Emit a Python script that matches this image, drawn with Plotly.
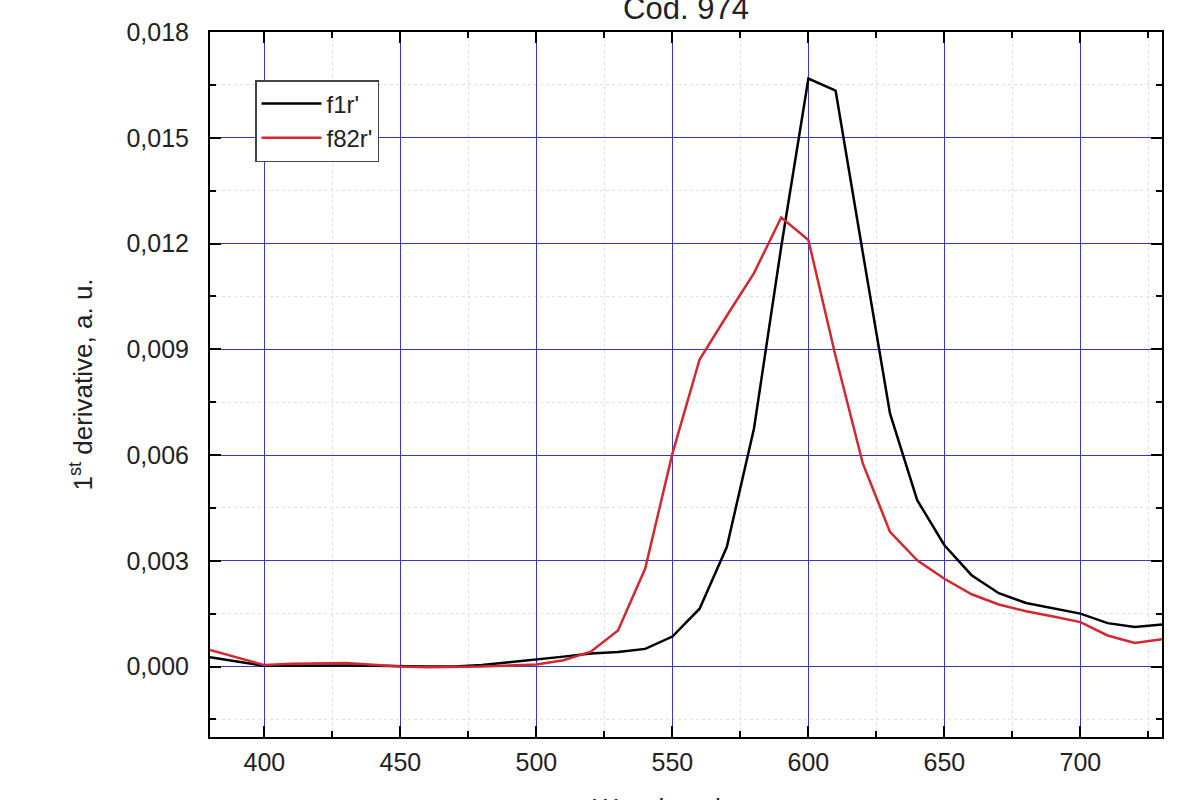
import plotly.graph_objects as go

wavelength = [380, 390, 400, 410, 420, 430, 440, 450, 460, 470, 480, 490, 500, 510, 520,
              530, 540, 550, 560, 570, 580, 590, 600, 610, 620, 630, 640, 650, 660, 670,
              680, 690, 700, 710, 720, 730]

f1r = [0.00026, 0.00015, 0.00002, 0.00002, 0.00003, 0.00003, 0.00002, 0.0, 0.0, 0.0,
       0.00004, 0.00012, 0.00019, 0.00028, 0.00037, 0.00041, 0.0005, 0.00085, 0.00164, 0.00339,
       0.00675, 0.0119, 0.01668, 0.01634, 0.01174, 0.00718, 0.00472, 0.00344, 0.00259, 0.00208,
       0.0018, 0.00164, 0.0015, 0.00123, 0.00112, 0.00119]

f82r = [0.00047, 0.00025, 0.00004, 0.00008, 0.0001, 0.0001, 0.00005, 0.0, -0.00002, -0.00002,
        0.0, 0.00003, 0.00006, 0.00018, 0.00042, 0.00102, 0.00278, 0.00604, 0.00871, 0.00995,
        0.01116, 0.01274, 0.0121, 0.0088, 0.00576, 0.00382, 0.00301, 0.00249, 0.00205, 0.00176,
        0.00157, 0.00142, 0.00126, 0.00088, 0.00067, 0.00077]

series_names = ["f1r'", "f82r'"]
series_colors = ["#000000", "#d22832"]

fig = go.Figure()
for name, vals, col in zip(series_names, [f1r, f82r], series_colors):
    fig.add_trace(go.Scatter(x=wavelength, y=vals, mode="lines", name=name,
                             line=dict(color=col, width=2.5)))

font_family = "Liberation Sans, Arial, sans-serif"
grid_col = "rgb(55,55,190)"
minor_grid = dict(showgrid=True, gridcolor="rgb(222,228,222)", griddash="dot", gridwidth=1,
                  ticks="inside", ticklen=6, tickwidth=2, tickcolor="black")

fig.update_layout(
    width=1200, height=800,
    margin=dict(l=210, r=38, t=32, b=63),
    paper_bgcolor="white", plot_bgcolor="white",
    separators=", ",
    font=dict(family=font_family, size=25, color="#222222"),
    title=dict(text="Cod. 974", x=0.5, xanchor="center", xref="paper",
               y=1-8/800, yref="container", yanchor="middle",
               font=dict(size=31, color="#222222")),
    showlegend=True,
    legend=dict(x=(255-210)/952, y=(737-80)/705, xanchor="left", yanchor="top",
                bgcolor="white", bordercolor="#444444", borderwidth=1.5,
                font=dict(size=24, color="#222222"), tracegroupgap=0,
                itemwidth=60),
    annotations=[dict(text="Wavelength, nm", xref="paper", yref="paper",
                      x=0.5, y=(737-808)/705, xanchor="center", yanchor="middle",
                      showarrow=False, font=dict(size=26, color="#222222"))],
)

fig.update_xaxes(
    range=[380, 730], tickmode="linear", tick0=400, dtick=50,
    showline=True, linecolor="black", linewidth=2, mirror="allticks",
    ticks="inside", ticklen=11, tickwidth=2, tickcolor="black",
    showgrid=True, gridcolor=grid_col, gridwidth=1,
    zeroline=False, ticklabelstandoff=2,
    minor=dict(dtick=25, tick0=400, **minor_grid),
    automargin=False,
)
fig.update_yaxes(
    range=[-0.002, 0.018], tickmode="linear", tick0=0, dtick=0.003, tickformat=".3f",
    showline=True, linecolor="black", linewidth=2, mirror="allticks",
    ticks="inside", ticklen=11, tickwidth=2, tickcolor="black",
    showgrid=True, gridcolor=grid_col, gridwidth=1,
    zeroline=False, ticklabelstandoff=14,
    minor=dict(dtick=0.0015, tick0=0, **minor_grid),
    title=dict(text="1<sup>st</sup> derivative, a. u.", standoff=26, font=dict(size=26)),
    automargin=False,
)

fig.write_html("out.html")
